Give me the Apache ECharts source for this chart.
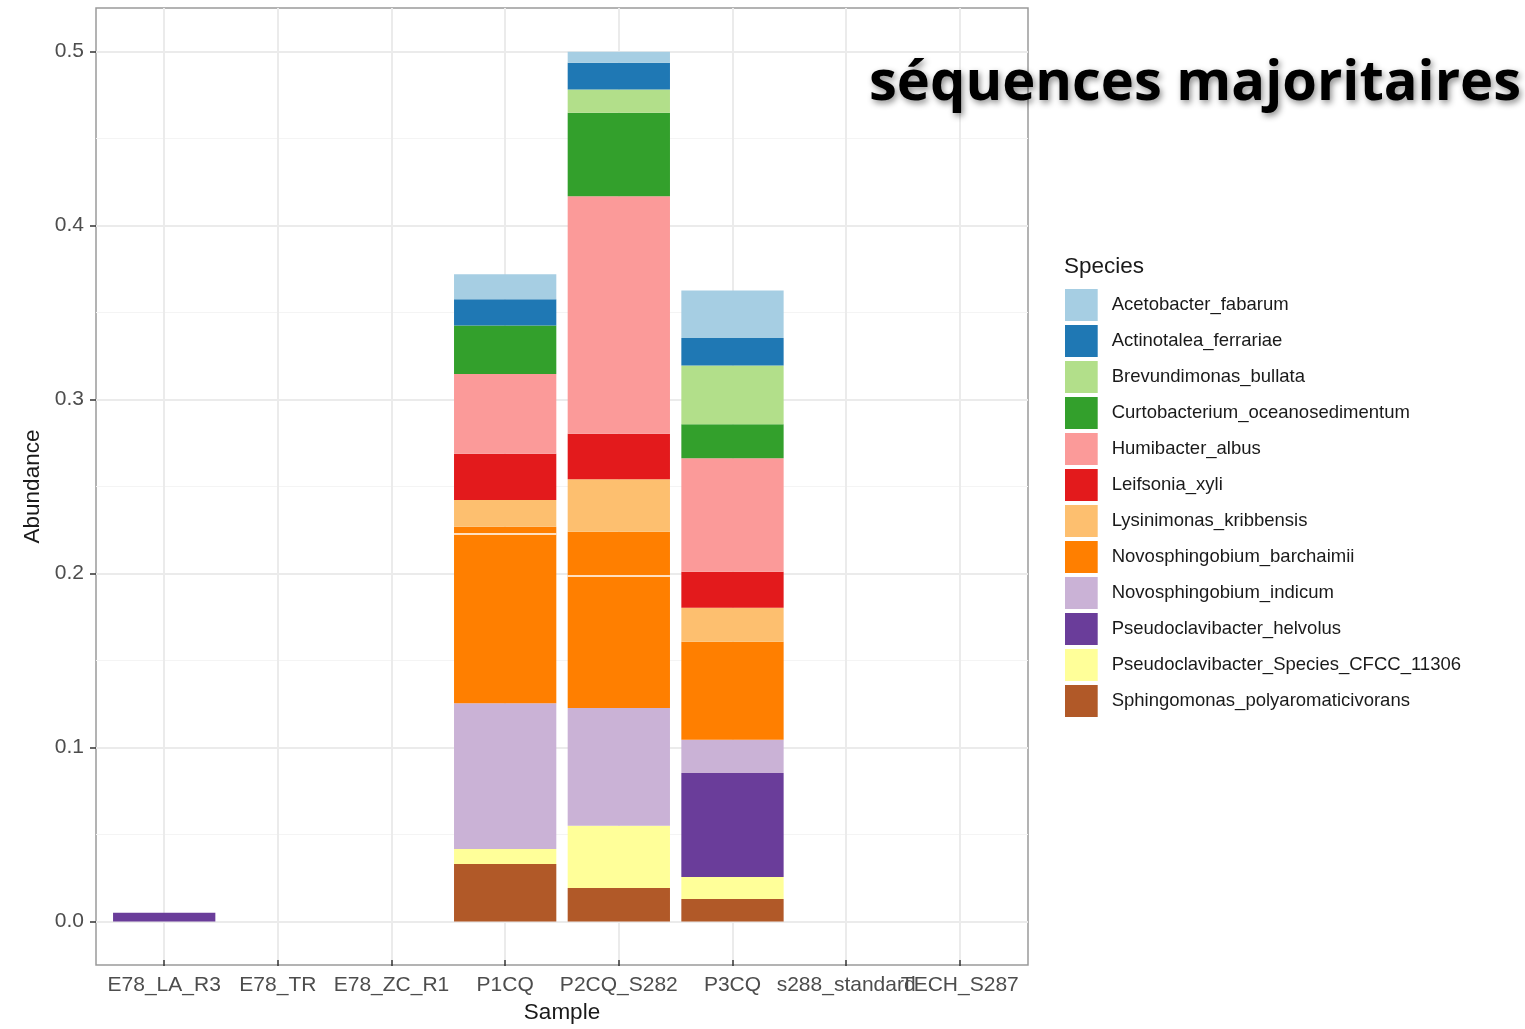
<!DOCTYPE html>
<html>
<head>
<meta charset="utf-8">
<title>séquences majoritaires</title>
<script src="https://cdn.jsdelivr.net/npm/echarts@6/dist/echarts.min.js"></script>
<style>
  html, body { margin: 0; padding: 0; background: #ffffff; }
  #chart { width: 1525px; height: 1029px; }
</style>
</head>
<body>
<div id="chart"></div>
<script>
// Samples along the x axis
const samples = ['E78_LA_R3', 'E78_TR', 'E78_ZC_R1', 'P1CQ', 'P2CQ_S282', 'P3CQ', 's288_standard', 'TECH_S287'];

// Y axis tick labels
const yTicks = [0, 0.1, 0.2, 0.3, 0.4, 0.5];

// Species in legend order (top of the stack first)
const species = [
  'Acetobacter_fabarum',
  'Actinotalea_ferrariae',
  'Brevundimonas_bullata',
  'Curtobacterium_oceanosedimentum',
  'Humibacter_albus',
  'Leifsonia_xyli',
  'Lysinimonas_kribbensis',
  'Novosphingobium_barchaimii',
  'Novosphingobium_indicum',
  'Pseudoclavibacter_helvolus',
  'Pseudoclavibacter_Species_CFCC_11306',
  'Sphingomonas_polyaromaticivorans'
];

// Abundance per sample (one value per entry of `samples`)
const sphingomonas   = [0, 0, 0, 0.0331, 0.0193, 0.0130, 0, 0];
const cfcc11306      = [0, 0, 0, 0.0086, 0.0358, 0.0126, 0, 0];
const helvolus       = [0.005, 0, 0, 0, 0, 0.0597, 0, 0];
const indicum        = [0, 0, 0, 0.0838, 0.0676, 0.0191, 0, 0];
// Novosphingobium_barchaimii comes from two OTUs in some samples
const barchaimiiOtu1 = [0, 0, 0, 0.0972, 0.0759, 0.0564, 0, 0];
const barchaimiiOtu2 = [0, 0, 0, 0.0042, 0.0254, 0, 0, 0];
const lysinimonas    = [0, 0, 0, 0.0153, 0.0301, 0.0195, 0, 0];
const leifsonia      = [0, 0, 0, 0.0266, 0.0262, 0.0207, 0, 0];
const humibacter     = [0, 0, 0, 0.0458, 0.1365, 0.0653, 0, 0];
const curtobacterium = [0, 0, 0, 0.0279, 0.0480, 0.0195, 0, 0];
const brevundimonas  = [0, 0, 0, 0, 0.0134, 0.0337, 0, 0];
const actinotalea    = [0, 0, 0, 0.0151, 0.0153, 0.0158, 0, 0];
const acetobacter    = [0, 0, 0, 0.0144, 0.0063, 0.0274, 0, 0];

// Paired palette
const colors = {
  'Acetobacter_fabarum': '#A6CEE3',
  'Actinotalea_ferrariae': '#1F78B4',
  'Brevundimonas_bullata': '#B2DF8A',
  'Curtobacterium_oceanosedimentum': '#33A02C',
  'Humibacter_albus': '#FB9A99',
  'Leifsonia_xyli': '#E31A1C',
  'Lysinimonas_kribbensis': '#FDBF6F',
  'Novosphingobium_barchaimii': '#FF7F00',
  'Novosphingobium_indicum': '#CAB2D6',
  'Pseudoclavibacter_helvolus': '#6A3D9A',
  'Pseudoclavibacter_Species_CFCC_11306': '#FFFF99',
  'Sphingomonas_polyaromaticivorans': '#B15928'
};

// Stack order, bottom first
const stackLayers = [
  ['Sphingomonas_polyaromaticivorans', sphingomonas],
  ['Pseudoclavibacter_Species_CFCC_11306', cfcc11306],
  ['Pseudoclavibacter_helvolus', helvolus],
  ['Novosphingobium_indicum', indicum],
  ['Novosphingobium_barchaimii', barchaimiiOtu1],
  ['Novosphingobium_barchaimii', barchaimiiOtu2],
  ['Lysinimonas_kribbensis', lysinimonas],
  ['Leifsonia_xyli', leifsonia],
  ['Humibacter_albus', humibacter],
  ['Curtobacterium_oceanosedimentum', curtobacterium],
  ['Brevundimonas_bullata', brevundimonas],
  ['Actinotalea_ferrariae', actinotalea],
  ['Acetobacter_fabarum', acetobacter]
];

// Thin white line where the second barchaimii OTU sits on the first one
const otuSeparators = [];
samples.forEach((s, i) => {
  if (barchaimiiOtu2[i] > 0) {
    const base = sphingomonas[i] + cfcc11306[i] + helvolus[i] + indicum[i] + barchaimiiOtu1[i];
    otuSeparators.push([i, base]);
  }
});

const axisFont = 'Liberation Sans, Arial, Helvetica, sans-serif';

// Panel geometry
const panel = { left: 96, top: 8, width: 932, height: 957 };
const yMinExp = -0.025, yMaxExp = 0.525;          // value range of the panel
const pxPerUnit = panel.height / (yMaxExp - yMinExp);
const dataTop = panel.top + (yMaxExp - 0.5) * pxPerUnit;
const dataHeight = 0.5 * pxPerUnit;
const band = panel.width / (samples.length + 0.2); // discrete axis expansion 0.6 each side
const dataLeft = panel.left + 0.1 * band;
const dataWidth = band * samples.length;

const chart = echarts.init(document.getElementById('chart'), null, { renderer: 'canvas' });

const barSeries = stackLayers.map(([name, values]) => ({
  name: name,
  type: 'bar',
  stack: 'abundance',
  xAxisIndex: 3,
  yAxisIndex: 3,
  barWidth: '90%',
  itemStyle: { color: colors[name] },
  emphasis: { disabled: true },
  data: values
}));

const option = {
  backgroundColor: '#ffffff',
  animation: false,
  grid: [
    // panel frame
    { left: panel.left, top: panel.top, width: panel.width, height: panel.height,
      show: true, backgroundColor: '#ffffff', borderColor: '#9a9a9a', borderWidth: 1.5 },
    // horizontal grid lines and y labels
    { left: panel.left, top: dataTop, width: panel.width, height: dataHeight },
    // vertical grid lines and x labels
    { left: panel.left + 0.6 * band, top: panel.top, width: band * (samples.length - 1), height: panel.height },
    // bars
    { left: dataLeft, top: dataTop, width: dataWidth, height: dataHeight }
  ],
  xAxis: [
    { gridIndex: 0, type: 'value', show: false },
    { gridIndex: 1, type: 'value', show: false },
    {
      gridIndex: 2, type: 'category', data: samples, boundaryGap: false, position: 'bottom',
      axisLine: { show: false, onZero: false },
      axisTick: { show: true, length: 6, lineStyle: { color: '#333333', width: 1.5 } },
      splitLine: { show: true, lineStyle: { color: '#EBEBEB', width: 2 } },
      axisLabel: { interval: 0, hideOverlap: false, margin: 15, fontSize: 21,
        color: '#4D4D4D', fontFamily: axisFont },
      name: 'Sample', nameLocation: 'middle', nameGap: 40,
      nameTextStyle: { fontSize: 22.5, color: '#1a1a1a', fontFamily: axisFont }
    },
    { gridIndex: 3, type: 'category', data: samples, boundaryGap: true, show: false }
  ],
  yAxis: [
    { gridIndex: 0, type: 'value', show: false },
    {
      gridIndex: 1, type: 'value', min: yTicks[0], max: yTicks[yTicks.length - 1], interval: 0.1,
      axisLine: { show: false, onZero: false },
      axisTick: { show: true, length: 6, lineStyle: { color: '#333333', width: 1.5 } },
      splitLine: { show: true, lineStyle: { color: '#EBEBEB', width: 2 } },
      minorTick: { show: false, splitNumber: 2 },
      minorSplitLine: { show: true, lineStyle: { color: '#F4F4F4', width: 1 } },
      axisLabel: { margin: 12, fontSize: 21, color: '#4D4D4D', fontFamily: axisFont,
        formatter: v => v.toFixed(1) },
      name: 'Abundance', nameLocation: 'middle', nameGap: 44,
      nameTextStyle: { fontSize: 22.5, color: '#1a1a1a', fontFamily: axisFont }
    },
    { gridIndex: 2, type: 'value', min: 0, max: 1, show: false },
    { gridIndex: 3, type: 'value', min: 0, max: 0.5, show: false }
  ],
  legend: {
    data: species,
    orient: 'vertical',
    left: 1065,
    top: 289,
    padding: 0,
    itemWidth: 32.7,
    itemHeight: 32,
    itemGap: 4,
    icon: 'rect',
    selectedMode: false,
    textStyle: { fontSize: 18.5, color: '#1a1a1a', fontFamily: axisFont, padding: [4, 0, 0, 9] }
  },
  graphic: [
    {
      type: 'text', left: 1064, top: 255,
      style: { text: 'Species', font: '22.5px ' + axisFont, fill: '#1a1a1a' }
    },
    {
      type: 'text', right: 4, top: 56, z: 100,
      style: {
        text: 'séquences majoritaires',
        font: 'bold 56px "Open Sans"',
        fill: '#000000',
        textShadowColor: 'rgba(0,0,0,0.45)',
        textShadowBlur: 6,
        textShadowOffsetX: 2,
        textShadowOffsetY: 3
      }
    }
  ],
  series: barSeries.concat([{
    name: 'otu-separator',
    type: 'custom',
    xAxisIndex: 3,
    yAxisIndex: 3,
    z: 5,
    silent: true,
    data: otuSeparators,
    renderItem: function (params, api) {
      const pt = api.coord([api.value(0), api.value(1)]);
      const w = api.size([1, 0])[0] * 0.9;
      return {
        type: 'line',
        shape: { x1: pt[0] - w / 2, y1: pt[1], x2: pt[0] + w / 2, y2: pt[1] },
        style: { stroke: '#ffffff', lineWidth: 1.5 }
      };
    }
  }])
};

chart.setOption(option);
</script>
</body>
</html>
